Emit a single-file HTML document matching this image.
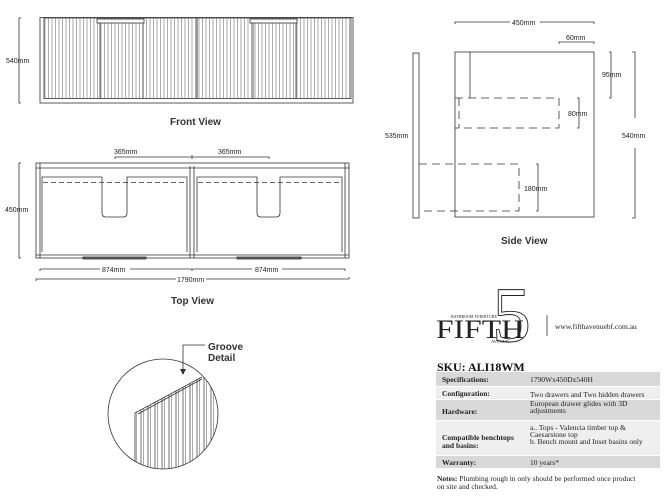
<!DOCTYPE html>
<html><head><meta charset="utf-8"><style>
body{margin:0;background:#fff;width:667px;height:503px;overflow:hidden}
svg{display:block}
.s{font-family:"Liberation Sans",sans-serif;font-size:7px;fill:#222}
.t{font-family:"Liberation Sans",sans-serif;font-size:10px;font-weight:bold;fill:#333}
.r{font-family:"Liberation Serif",serif;font-size:7.5px;fill:#222}
.rb{font-family:"Liberation Serif",serif;font-size:7.5px;font-weight:bold;fill:#222}
</style></head><body>
<svg width="667" height="503" viewBox="0 0 667 503" xmlns="http://www.w3.org/2000/svg">
<defs>
<pattern id="g" x="44" y="0" width="3.5" height="10" patternUnits="userSpaceOnUse"><line x1="1" y1="0" x2="1" y2="10" stroke="#666" stroke-width="0.55"/></pattern>
<pattern id="g2" x="0" y="0" width="7" height="10" patternUnits="userSpaceOnUse"><line x1="1" y1="0" x2="1" y2="10" stroke="#333" stroke-width="0.7"/><line x1="3.5" y1="0" x2="3.5" y2="10" stroke="#555" stroke-width="0.5"/></pattern>
<clipPath id="c"><circle cx="163" cy="414" r="55"/></clipPath>
</defs>
<g fill="none" stroke="#333" stroke-width="0.8">
<!-- Front view -->
<rect x="40" y="17.5" width="313" height="85.5"/>
<rect x="44" y="18" width="307" height="80.5" fill="url(#g)"/>
<line x1="197" y1="18" x2="197" y2="98.5" stroke-width="1"/>
<rect x="97" y="19" width="47" height="4" fill="#fff"/>
<rect x="250" y="19" width="47" height="4" fill="#fff"/>
<path d="M100 23V98M143 23V98M253 23V98M296 23V98"/>
<path d="M21 18h-2v85h2"/>
<!-- Top view -->
<rect x="36" y="163" width="313" height="95"/>
<path d="M36 168H349M40 163V258M345 163V258M190 166V258M194 166V258M36 255H349"/>
<path d="M42 252V177H102V213q0 4 4 4H123q4 0 4-4V177H187V252M197 252V177H257V213q0 4 4 4H276q4 0 4-4V177H342V252"/>
<path d="M43 182.5H187M198 182.5H342" stroke-dasharray="5 3"/>
<rect x="83" y="257" width="63" height="2" fill="#666"/>
<rect x="237" y="257" width="64" height="2" fill="#666"/>
<path d="M115 159v-2H269v2M192 155v4"/>
<path d="M40 271v-2H100M130 269H192v2M192 269H252M282 269H345v2"/>
<path d="M36 281v-2H176M206 279H349v-2"/>
<path d="M21 163h-2v95h2"/>
<!-- Side view -->
<rect x="455" y="52" width="139" height="165"/>
<rect x="413" y="53" width="6" height="165"/>
<line x1="470" y1="52" x2="470" y2="98"/>
<path d="M455 98H559V128H455M459 98V128" stroke-dasharray="8 5"/>
<path d="M419 164H519V211H419" stroke-dasharray="8 5"/>
<path d="M455 24v-2H510M540 22H594v2"/>
<path d="M559 44v-2h35v2"/>
<path d="M609 52h2v46h-2"/>
<path d="M577 98h2v30h-2"/>
<path d="M632 52h3v66M635 148v70h-3"/>
<path d="M536 164h2v47h-2"/>
<!-- Groove detail -->
<circle cx="163" cy="414" r="55"/>
<g clip-path="url(#c)">
<polygon points="135,413 202,377 230,377 230,480 135,480" fill="url(#g2)" stroke="none"/>
<path d="M135 413L202 377M135 413V480M138 414L202 379"/>
</g>
<path d="M205 345H183V370"/>
</g>
<polygon points="180,369 186,369 183,375" fill="#333"/>
<g class="s">
<text x="6" y="63">540mm</text>
<text x="114" y="154">365mm</text>
<text x="218" y="154">365mm</text>
<text x="5" y="212">450mm</text>
<text x="102" y="272">874mm</text>
<text x="255" y="272">874mm</text>
<text x="177" y="282">1790mm</text>
<text x="512" y="25">450mm</text>
<text x="566" y="40">60mm</text>
<text x="602" y="77">95mm</text>
<text x="568" y="116">80mm</text>
<text x="385" y="138">535mm</text>
<text x="622" y="138">540mm</text>
<text x="524" y="191">180mm</text>
</g>
<text class="t" x="170" y="125">Front View</text>
<text class="t" x="171" y="304">Top View</text>
<text class="t" x="501" y="244">Side View</text>
<text class="t" x="208" y="350">Groove</text>
<text class="t" x="208" y="361">Detail</text>
<!-- Logo -->
<text x="492" y="341" font-family="Liberation Serif,serif" font-size="78" fill="none" stroke="#222" stroke-width="0.9">5</text>
<text x="451" y="318" font-family="Liberation Serif,serif" font-size="4" fill="#222">BATHROOM FURNITURE</text>
<text x="436" y="338" font-family="Liberation Serif,serif" font-size="26" fill="#222" textLength="88" lengthAdjust="spacingAndGlyphs">FIFTH</text>
<text x="491" y="343" font-family="Liberation Serif,serif" font-size="4.5" fill="#222">AVENUE</text>
<line x1="547" y1="315" x2="547" y2="336" stroke="#333" stroke-width="0.8"/>
<text x="555" y="329" font-family="Liberation Serif,serif" font-size="7.5" fill="#222">www.fifthavenuebf.com.au</text>
<text x="437" y="371" font-family="Liberation Serif,serif" font-size="12" font-weight="bold" fill="#111">SKU: ALI18WM</text>
<rect x="436" y="372" width="224" height="14" fill="#d9d9d9"/>
<rect x="436" y="387" width="224" height="12" fill="#efefef"/>
<rect x="436" y="400" width="224" height="20" fill="#d9d9d9"/>
<rect x="436" y="421" width="224" height="34" fill="#efefef"/>
<rect x="436" y="456" width="224" height="12" fill="#d9d9d9"/>
<text class="rb" x="442" y="382">Specifications:</text>
<text class="r" x="530" y="382">1790Wx450Dx540H</text>
<text class="rb" x="442" y="396">Configuration:</text>
<text class="r" x="530" y="397">Two drawers and Two hidden drawers</text>
<text class="rb" x="442" y="414">Hardware:</text>
<text class="r" x="530" y="406">European drawer glides with 3D</text>
<text class="r" x="530" y="413">adjustments</text>
<text class="rb" x="442" y="440">Compatible benchtops</text>
<text class="rb" x="442" y="448">and basins:</text>
<text class="r" x="530" y="430">a.. Tops - Valencia timber top &amp;</text>
<text class="r" x="530" y="437">Caesarstone top</text>
<text class="r" x="530" y="444">b. Bench mount and Inset basins only</text>
<text class="rb" x="442" y="465">Warranty:</text>
<text class="r" x="530" y="465">10 years*</text>
<text class="r" x="437" y="481"><tspan font-weight="bold">Notes:</tspan> Plumbing rough in only should be performed once product</text>
<text class="r" x="437" y="489">on site and checked.</text>
</svg>
</body></html>
